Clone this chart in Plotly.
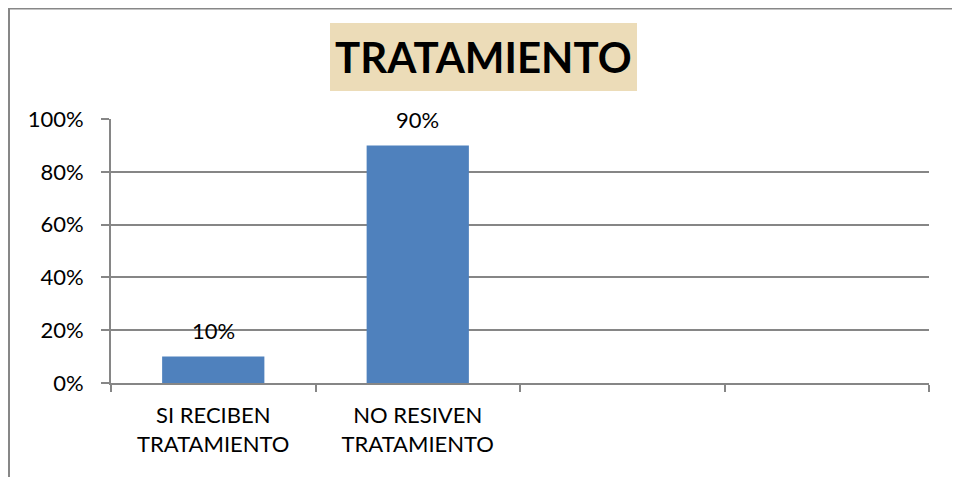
import plotly.graph_objects as go

categories = ["SI RECIBEN<br>TRATAMIENTO", "NO RESIVEN<br>TRATAMIENTO", " ", "  "]
values = [0.10, 0.90, None, None]
y_ticks = [0, 0.2, 0.4, 0.6, 0.8, 1.0]
y_tick_labels = ["0%", "20%", "40%", "60%", "80%", "100%"]
title_text = "TRATAMIENTO"

# page has an 8px body margin; figure is sized to fit the window exactly
OFF = 8
W, H = 960 - OFF, 477 - OFF
L, R, T, B = 111, 929, 119, 383  # page pixel coords of the plot area

def px(x):
    return (x - L) / (R - L)

def py(y):
    return (B - y) / (B - T)

fig = go.Figure()
fig.add_trace(go.Bar(
    x=categories, y=values,
    marker=dict(color="#4F81BD", line=dict(width=0)),
    width=0.5,
    hoverinfo="skip",
))

for c, v in zip(categories, values):
    if v is not None:
        fig.add_annotation(x=c, y=v, text=f"{v*100:.0f}%", showarrow=False,
                           yshift=26, font=dict(family="Lato", size=22, color="#000000"))

# title box
fig.add_shape(type="rect", xref="paper", yref="paper",
              x0=px(330), x1=px(637), y0=py(91), y1=py(23),
              fillcolor="#ECDCB8", line=dict(width=0), layer="below")
fig.add_annotation(xref="paper", yref="paper", x=px(483), y=py(57),
                   text=f"<b>{title_text}</b>", showarrow=False,
                   xanchor="center", yanchor="middle",
                   font=dict(family="Lato", size=42, color="#000000"))

# outer border
fig.add_shape(type="path", xref="paper", yref="paper",
              path=f"M {px(9)} {py(490)} L {px(9)} {py(8.5)} L {px(957)} {py(8.5)} L {px(957)} {py(490)}",
              line=dict(color="#878787", width=2))

fig.update_layout(
    width=W, height=H,
    margin=dict(l=L - OFF, r=W - (R - OFF), t=T - OFF, b=H - (B - OFF)),
    paper_bgcolor="#FFFFFF", plot_bgcolor="#FFFFFF",
    showlegend=False,
    font=dict(family="Lato", color="#000000"),
    xaxis=dict(
        type="category", categoryorder="array", categoryarray=categories,
        range=[-0.5, 3.5],
        tickson="boundaries", ticks="outside", ticklen=7, tickcolor="#868686", tickwidth=2,
        showline=True, linecolor="#868686", linewidth=2,
        showgrid=False, zeroline=False,
        tickfont=dict(family="Lato", size=22, color="#000000"),
        ticklabelstandoff=12,
    ),
    yaxis=dict(
        range=[0, 1.0], tickvals=y_ticks, ticktext=y_tick_labels,
        ticks="outside", ticklen=8, tickcolor="#868686", tickwidth=2,
        showline=True, linecolor="#868686", linewidth=2,
        showgrid=True, gridcolor="#868686", gridwidth=1.5,
        zeroline=False,
        tickfont=dict(family="Lato", size=22, color="#000000"),
        ticklabelstandoff=13,
    ),
)

fig.write_html("out.html")
